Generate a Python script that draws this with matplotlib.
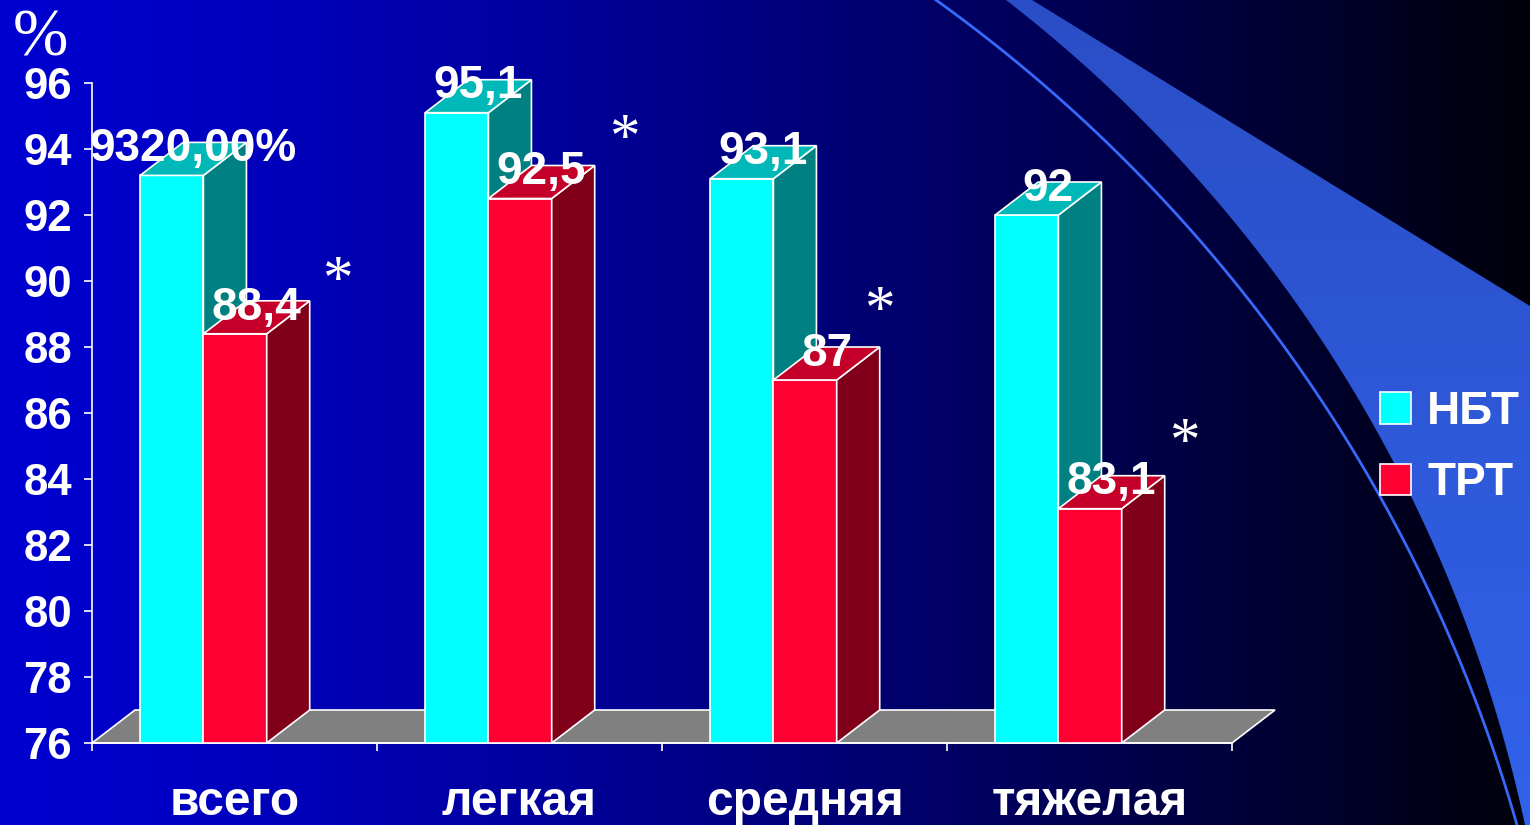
import numpy as np
import matplotlib
matplotlib.use("Agg")
import matplotlib.pyplot as plt
from matplotlib.patches import Polygon, Rectangle, Patch

# ---- data -------------------------------------------------------------
categories = ["всего", "легкая", "средняя", "тяжелая"]
series_names = ["НБТ", "ТРТ"]
nbt = [93.2, 95.1, 93.1, 92.0]
trt = [88.4, 92.5, 87.0, 83.1]
nbt_as_percent = [True, False, False, False]   # first label is shown in % format
trt_as_percent = [False, False, False, False]
y_ticks = list(range(76, 97, 2))
# significance marks (category position, value level)
sig_x = [0.86, 1.867, 2.761, 3.832]
sig_y = [89.95, 94.25, 89.05, 85.05]

# ---- styling ----------------------------------------------------------
plt.rcParams["font.family"] = ["Liberation Sans", "DejaVu Sans"]
plt.rcParams["font.weight"] = "bold"
SERIF = ["Liberation Serif", "DejaVu Serif"]

W, H = 1530, 825
fig = plt.figure(figsize=(W / 100, H / 100), dpi=100)

# ---- slide background: horizontal blue gradient with decorative swoosh --
bg = fig.add_axes([0, 0, 1, 1], zorder=0)
bg.set_xlim(0, W)
bg.set_ylim(H, 0)
bg.axis("off")
t = np.linspace(0, 1, W)
blue = 10 + 198 * (1 - t ** 1.3)
grad = np.zeros((2, W, 3))
grad[..., 2] = blue / 255
bg.imshow(grad, extent=(0, W, H, 0), aspect="auto", interpolation="bilinear", zorder=0)


def arc_through(p1, p2, p3, n=300):
    """Points on the circular arc that passes through p1, p2, p3."""
    (x1, y1), (x2, y2), (x3, y3) = p1, p2, p3
    A = np.array([[x2 - x1, y2 - y1], [x3 - x1, y3 - y1]], float)
    b = 0.5 * np.array([x2**2 - x1**2 + y2**2 - y1**2,
                        x3**2 - x1**2 + y3**2 - y1**2])
    cx, cy = np.linalg.solve(A, b)
    r = np.hypot(x1 - cx, y1 - cy)
    a1 = np.arctan2(y1 - cy, x1 - cx)
    a3 = np.arctan2(y3 - cy, x3 - cx)
    a2 = np.arctan2(y2 - cy, x2 - cx)

    def between(a, s, e):
        d = (e - s) % (2 * np.pi)
        return (a - s) % (2 * np.pi) <= d
    if between(a2, a1, a3):
        ang = a1 + np.linspace(0, (a3 - a1) % (2 * np.pi), n)
    else:
        ang = a1 - np.linspace(0, (a1 - a3) % (2 * np.pi), n)
    return np.column_stack([cx + r * np.cos(ang), cy + r * np.sin(ang)])


edge = arc_through((1006, 0), (1294, 300), (1525, 825))
band_pts = np.vstack([edge, [[W, H], [W, 306], [1032, 0]]])
band = Polygon(band_pts, closed=True, facecolor="none", edgecolor="none")
bg.add_patch(band)
bgrad = np.zeros((50, 2, 3))
bgrad[:, :, 0] = np.linspace(0x2a, 0x31, 50)[:, None] / 255
bgrad[:, :, 1] = np.linspace(0x4e, 0x62, 50)[:, None] / 255
bgrad[:, :, 2] = np.linspace(0xc6, 0xea, 50)[:, None] / 255
im = bg.imshow(bgrad, extent=(900, W, H, 0), aspect="auto", interpolation="bilinear", zorder=1)
im.set_clip_path(band)

line = arc_through((936, 0), (1249, 300), (1517, 825))
bg.plot(line[:, 0], line[:, 1], color="#3868f8", lw=2.0, zorder=2)

# ---- chart axes ---------------------------------------------------------
ax = fig.add_axes([92 / W, 1 - 743 / H, 1140 / W, 660 / H], zorder=1)
ax.set_facecolor("none")
ax.set_xlim(0, len(categories))
ax.set_ylim(76, 96)
for s in ("top", "right"):
    ax.spines[s].set_visible(False)
for s in ("left", "bottom"):
    ax.spines[s].set_color("white")
    ax.spines[s].set_linewidth(1.2)
ax.set_yticks(y_ticks)
ax.set_xticks(range(len(categories) + 1))
ax.set_xticklabels([])
ax.tick_params(axis="y", colors="white", length=5.8, width=1.2, pad=8.5, labelsize=31.5)
ax.tick_params(axis="x", colors="white", length=5.8, width=1.2, labelbottom=False)

base = 76
gap0 = 0.169          # space before the first bar in a category
bw = 0.222            # bar width in category units
ddx, ddy = 43 / 285, 1.0   # 3-D depth offset (x in categories, y in value units)

# floor
floor = Polygon([(0, base), (len(categories), base),
                 (len(categories) + ddx, base + ddy), (ddx, base + ddy)],
                closed=True, facecolor="#808080", edgecolor="white",
                lw=1.2, zorder=1, clip_on=False)
ax.add_patch(floor)

styles = [("#00ffff", "#008080", "#00b8b8"),
          ("#ff0033", "#80001a", "#c4002a")]


def fmt(v, pct):
    if pct:
        return f"{v * 100:.2f}%".replace(".", ",")
    s = f"{v:.1f}".replace(".", ",")
    return s[:-2] if s.endswith(",0") else s


z = 3
label_items = []
for i in range(len(categories)):
    for j, (vals, pcts) in enumerate([(nbt, nbt_as_percent), (trt, trt_as_percent)]):
        front_c, side_c, top_c = styles[j]
        v = vals[i]
        x = i + gap0 + j * bw
        kw = dict(edgecolor="white", lw=1.2, clip_on=False, joinstyle="miter")
        ax.add_patch(Rectangle((x, base), bw, v - base, facecolor=front_c, zorder=z, **kw))
        ax.add_patch(Polygon([(x + bw, base), (x + bw + ddx, base + ddy),
                              (x + bw + ddx, v + ddy), (x + bw, v)],
                             closed=True, facecolor=side_c, zorder=z, **kw))
        ax.add_patch(Polygon([(x, v), (x + bw, v), (x + bw + ddx, v + ddy),
                              (x + ddx, v + ddy)],
                             closed=True, facecolor=top_c, zorder=z, **kw))
        z += 1
        label_items.append((x + bw / 2 + ddx / 2, v + ddy, fmt(v, pcts[i])))

for lx, ly, txt in label_items:
    ax.annotate(txt, xy=(lx, ly), xytext=(0, -13.5), textcoords="offset points",
                ha="center", va="baseline", fontsize=33, color="white",
                fontweight="bold", zorder=50, annotation_clip=False)

for sx, sy in zip(sig_x, sig_y):
    ax.text(sx, sy, "*", family=SERIF, fontweight="normal", fontsize=44,
            color="white", ha="center", va="center", zorder=50, clip_on=False)

for i, cat in enumerate(categories):
    ax.annotate(cat, xy=(i + 0.5, base), xytext=(0, -52), textcoords="offset points",
                ha="center", va="baseline", fontsize=34.5, color="white",
                fontweight="bold", annotation_clip=False)

fig.text(40 / W, 1 - 55 / H, "%", family=SERIF, fontweight="normal", fontsize=48,
         color="white", ha="center", va="baseline")

handles = [Patch(facecolor=styles[k][0], edgecolor="white", lw=1.2, label=series_names[k])
           for k in range(2)]
fig.legend(handles=handles, loc="upper left", bbox_to_anchor=(1380 / W, 1 - 390 / H),
           frameon=False, prop={"size": 33, "weight": "bold"}, labelcolor="white",
           handlelength=0.68, handleheight=0.68, handletextpad=0.35,
           labelspacing=0.60, borderpad=0, borderaxespad=0)

fig.savefig("out.png", dpi=100)
